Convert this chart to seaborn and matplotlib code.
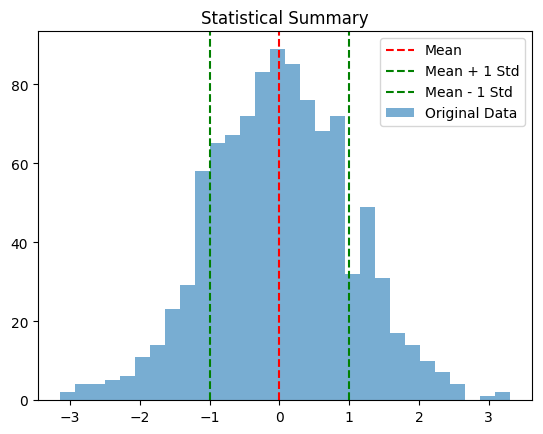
import numpy as np
import pandas as pd
import matplotlib
matplotlib.use("Agg")
import matplotlib.pyplot as plt
import seaborn as sns

bin_start = -3.14
bin_end = 3.30
counts = [2, 4, 4, 5, 6, 11, 14, 23, 29, 58, 65, 67, 72, 83, 89, 85, 76, 68, 72, 32, 49, 31, 17, 14, 10, 7, 4, 0, 1, 2]
mean_val = 0.0
std_val = 1.0

edges = np.linspace(bin_start, bin_end, len(counts) + 1)
centers = (edges[:-1] + edges[1:]) / 2
df = pd.DataFrame({"value": centers, "count": counts})

fig = plt.figure(figsize=(5.43, 4.35), dpi=100)
ax = fig.add_axes([38/543, 1 - 401/435, (532-38)/543, (401-32)/435])
sns.histplot(data=df, x="value", weights="count", bins=len(counts), binrange=(bin_start, bin_end),
             color="#1f77b4", alpha=0.6, edgecolor="none", linewidth=0,
             label="Original Data", ax=ax)
ax.axvline(mean_val, color="red", linestyle="--", label="Mean")
ax.axvline(mean_val + std_val, color="green", linestyle="--", label="Mean + 1 Std")
ax.axvline(mean_val - std_val, color="green", linestyle="--", label="Mean - 1 Std")
ax.set_ylabel("")
ax.set_xlabel("")
ax.set_title("Statistical Summary")
ax.legend(loc="upper right")
fig.savefig("out.png", dpi=100)
